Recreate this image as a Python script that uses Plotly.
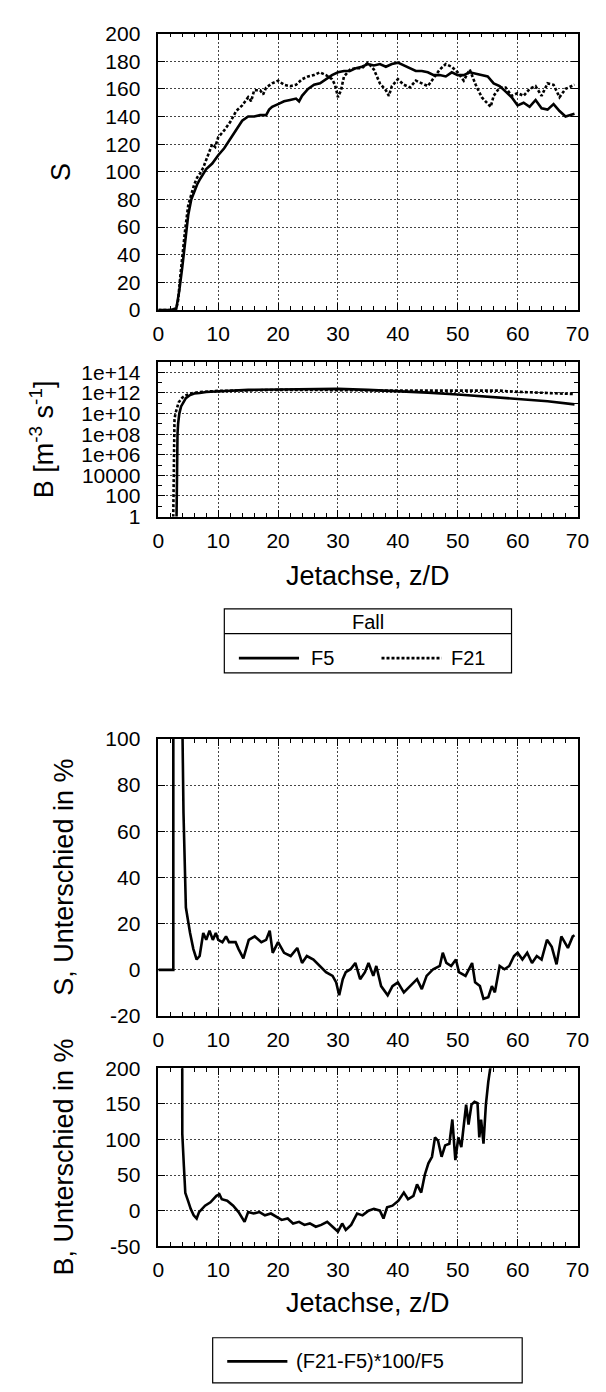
import plotly.graph_objects as go

# ---------------- data ----------------
# Centre-line scalar S along the jet axis (z/D), cases F5 and F21
z_s_f5 = [0, 1, 2, 3.0, 3.5, 4, 4.5, 5, 5.5, 6,
          6.5, 7, 7.5, 8, 9, 10, 11, 12, 13, 13.5,
          14, 15, 16, 17, 18, 18.5, 19, 20, 21, 22,
          23, 23.5, 24, 25, 26, 27, 28, 29, 30, 31,
          32, 33, 34, 35, 36, 37, 38, 39, 40, 41,
          42, 43, 44, 45, 46, 47, 48, 49, 50, 51,
          52, 53, 54, 55, 56, 57, 58, 59, 60, 61,
          62, 63, 64, 65, 66, 67, 68, 69, 69.5]
s_f5 = [0, 0, 0, 1, 14, 31, 50, 69, 80, 86,
        91, 95, 99, 102, 106, 112, 117, 124, 131, 134,
        137, 140, 140, 141, 141, 145, 147, 149, 151, 152,
        153, 151, 155, 160, 163, 164, 167, 170, 172, 173,
        173, 175, 176, 178, 177, 178, 176, 178, 179, 177,
        175, 173, 173, 172, 170, 170, 169, 172, 170, 170,
        172, 171, 170, 169, 164, 162, 158, 154, 148, 150,
        147, 152, 146, 145, 149, 144, 140, 141, 142]

z_s_f21 = [0, 1, 2, 3.0, 3.3, 3.7, 4, 4.5, 5, 5.5,
           6, 6.5, 7, 7.5, 8, 8.5, 9, 9.5, 10, 11,
           12, 13, 14, 15, 15.5, 16, 17, 17.5, 18, 19,
           20, 21, 22, 23, 24, 25, 26, 27, 28, 29,
           29.5, 30, 30.5, 31, 32, 33, 34, 35, 36, 37,
           38, 38.5, 39, 40, 41, 42, 43, 44, 45, 46,
           47, 48, 49, 50, 51, 52, 53, 54, 55, 55.5,
           56, 57, 58, 59, 60, 61, 62, 63, 64, 65,
           66, 67, 68, 69, 69.5]
s_f21 = [0, 0, 0, 1, 7, 26, 40, 59, 76, 84,
         91, 96, 99, 103, 109, 114, 120, 118, 125, 130,
         136, 144, 148, 154, 151, 159, 159, 156, 161, 164,
         166, 163, 162, 163, 167, 169, 170, 172, 170, 167,
         163, 154, 159, 169, 174, 175, 175, 179, 174, 164,
         159, 155, 162, 167, 163, 161, 166, 164, 162, 168,
         174, 178, 176, 172, 166, 174, 163, 154, 149, 147,
         155, 161, 161, 155, 157, 155, 160, 162, 155, 164,
         163, 154, 160, 162, 163]

# Source term B [m^-3 s^-1] along the jet axis
z_b_f5 = [3.0, 3.1, 3.2, 3.3, 3.5, 3.8, 4.2, 4.6, 5.3, 6.0,
          6.9, 8.0, 9.5, 12, 15, 20, 25, 30, 35, 40,
          45, 50, 55, 60, 65, 69.5]
b_f5 = [1e-2, 1e6, 1e8, 1e9, 1e10, 5e10, 1.26e11, 3.2e11, 6.3e11, 8.9e11,
        1.0e12, 1.26e12, 1.4e12, 1.6e12, 2.0e12, 2.2e12, 2.5e12, 2.5e12, 2.0e12, 1.5e12,
        1.1e12, 7.1e11, 4.5e11, 2.5e11, 1.6e11, 7.9e10]

z_b_f21 = [2.45, 2.55, 2.6, 2.7, 2.9, 3.4, 4.0, 4.5, 5.8, 7,
           10, 15, 20, 25, 30, 35, 40, 45, 50, 55,
           57, 60, 65, 69.5]
b_f21 = [1e-2, 1e5, 1e8, 3.2e9, 1.26e10, 1.26e11, 3.5e11, 5.6e11, 1.0e12, 1.26e12,
         1.6e12, 1.9e12, 2.0e12, 2.0e12, 1.8e12, 1.9e12, 1.7e12, 1.7e12, 1.7e12, 1.6e12,
         1.7e12, 1.3e12, 1.0e12, 7.9e11]

# Relative difference (F21-F5)*100/F5 for S, in %
z_ds = [0, 1, 2, 2.5, 2.55, 3.95, 4.2, 4.4, 4.6, 5.3,
        5.85, 6.4, 6.9, 7.5, 8.0, 8.55, 9.1, 9.6, 10, 10.7,
        11.3, 11.8, 12.9, 13.4, 14.2, 15.1, 16.1, 17.2, 18, 18.6,
        19.1, 20, 21, 22.1, 23.2, 24, 24.8, 25.9, 27, 28,
        29.1, 29.7, 30.2, 30.8, 31.3, 32.1, 32.9, 33.7, 34.5, 35.1,
        35.9, 36.4, 37.2, 38.3, 39.1, 40, 41, 42.1, 43.2, 44,
        44.8, 45.9, 47, 47.5, 48.1, 48.9, 49.7, 50.2, 51.3, 52.4,
        52.9, 53.7, 54.3, 55.1, 55.7, 56.2, 57, 57.8, 58.6, 59.4,
        60, 60.8, 61.6, 62.4, 63.2, 64, 64.9, 65.7, 66.5, 67.3,
        68.4, 69.2, 69.5]
ds = [0, 0, 0, 0, 1500, 120, 68, 40, 27, 16,
      9, 4.5, 6, 16, 13, 17, 13, 16, 13, 12,
      14.5, 12, 12, 9, 5, 13, 14.5, 12, 13, 17,
      7.4, 12, 7.4, 6, 9.5, 3, 6, 4.5, 1.7, -1,
      -2.6, -5.4, -11, -4, -1, 0.3, 3, -4, -1, 3,
      -2.6, 1.7, -7, -11, -7, -5.4, -9.7, -7, -4, -8.3,
      -2.6, 0.3, 1.7, 7.4, 3, 1.7, 4.5, -1, -2.6, 3,
      -5.4, -7, -12.5, -11.8, -7, -9.7, 1.7, 0.3, 1.7, 6,
      7.4, 4.5, 7.4, 3, 6, 4.5, 13, 10, 2.4, 14.5,
      9.5, 14.5, 15]

# Relative difference (F21-F5)*100/F5 for B, in %
z_db = [3.85, 3.95, 4.0, 4.27, 4.5, 4.95, 5.4, 5.9, 6.4, 6.8,
        7.8, 8.7, 9.7, 10.2, 10.6, 11.5, 12.5, 13.4, 14.4, 15,
        15.9, 16.9, 17.8, 18.8, 19.7, 20.6, 21.6, 22.5, 23.5, 24.4,
        25.3, 26.3, 27.2, 28.2, 29.1, 30, 30.7, 31.3, 32.2, 33.2,
        34.1, 35.1, 36, 37, 37.6, 38.2, 39.1, 40.1, 41, 41.7,
        42.6, 43.2, 43.9, 44.5, 45.1, 45.7, 46.2, 46.7, 47.3, 47.9,
        48.6, 49.1, 49.6, 50.1, 50.6, 51.4, 51.8, 52.3, 52.8, 53.3,
        53.6, 53.9, 54.3, 54.7, 55.1, 55.5, 56]
db = [2000, 210, 108, 62, 25, 14, 2.6, -6.6, -11, -2,
      7, 11.7, 20.8, 23, 16, 14, 7, -2, -15.7, -2,
      -4, -2, -6.6, -4, -9, -13, -11, -18, -15.7, -20,
      -18, -22.6, -20, -15.7, -22.6, -29.5, -18, -27, -20, -4,
      -6.6, 0, 2.6, 0, -11, 4.8, 7, 14, 25.4, 16,
      20.8, 37, 25.4, 50.5, 66.5, 75.7, 103, 98.5, 75.7, 91.7,
      94, 128, 71, 103, 89.4, 149, 121, 149, 153, 151,
      103, 128, 94, 149, 181, 204, 300]

# axis ticks
x_ticks = [0, 10, 20, 30, 40, 50, 60, 70]
s_ticks = [0, 20, 40, 60, 80, 100, 120, 140, 160, 180, 200]
b_ticks = [1, 1e2, 1e4, 1e6, 1e8, 1e10, 1e12, 1e14]
b_ticktext = ["1", "100", "10000", "1e+06", "1e+08", "1e+10", "1e+12", "1e+14"]
b_minor = [10, 1e3, 1e5, 1e7, 1e9, 1e11, 1e13]
ds_ticks = [-20, 0, 20, 40, 60, 80, 100]
db_ticks = [-50, 0, 50, 100, 150, 200]

# ---------------- layout helpers ----------------
W, H = 606, 1392
FONT = "Liberation Sans, Arial, Helvetica, sans-serif"
X0, X1 = 157, 589
TICK_SIZE = 21


def px_x(p):
    return p / W


def px_y(p):
    return 1 - p / H


def ydom(top, bottom):
    return [px_y(bottom), px_y(top)]


grid = dict(showgrid=True, gridcolor="#444", griddash="2px,2px", gridwidth=1)
frame = dict(showline=True, linecolor="black", linewidth=1.6, mirror="allticks",
             ticks="inside", ticklen=7, tickwidth=1.2, tickcolor="black",
             zeroline=False, tickfont=dict(family=FONT, size=TICK_SIZE, color="black"))


def xaxis_cfg(anchor):
    return dict(range=[0, 70], tickvals=x_ticks, ticktext=[str(v) for v in x_ticks],
                domain=[px_x(X0), px_x(X1)], anchor=anchor, ticklabelstandoff=4,
                minor=dict(dtick=2, tick0=0, ticks="inside", ticklen=4,
                           tickcolor="black", showgrid=False),
                **grid, **frame)


def yaxis_cfg(anchor, top, bottom, **kw):
    d = dict(domain=ydom(top, bottom), anchor=anchor, ticklabelstandoff=12)
    d.update(grid)
    d.update(frame)
    d.update(kw)
    return d


fig = go.Figure()

line_solid = dict(color="black", width=2.6)
line_dot = dict(color="black", width=2.6, dash="3px,2px")

fig.add_trace(go.Scatter(x=z_s_f5, y=s_f5, mode="lines", line=line_solid,
                         name="F5", xaxis="x", yaxis="y"))
fig.add_trace(go.Scatter(x=z_s_f21, y=s_f21, mode="lines", line=line_dot,
                         name="F21", xaxis="x", yaxis="y"))
fig.add_trace(go.Scatter(x=z_b_f5, y=b_f5, mode="lines", line=line_solid,
                         name="F5", xaxis="x2", yaxis="y2"))
fig.add_trace(go.Scatter(x=z_b_f21, y=b_f21, mode="lines", line=line_dot,
                         name="F21", xaxis="x2", yaxis="y2"))
fig.add_trace(go.Scatter(x=z_ds, y=ds, mode="lines", line=line_solid,
                         name="(F21-F5)*100/F5", xaxis="x3", yaxis="y3"))
fig.add_trace(go.Scatter(x=z_db, y=db, mode="lines", line=line_solid,
                         name="(F21-F5)*100/F5", xaxis="x4", yaxis="y4"))

fig.update_layout(
    width=W, height=H, margin=dict(l=0, r=0, t=0, b=0),
    paper_bgcolor="white", plot_bgcolor="white", showlegend=False,
    font=dict(family=FONT, size=TICK_SIZE, color="black"),
    xaxis=xaxis_cfg("y"),
    xaxis2=xaxis_cfg("y2"),
    xaxis3=xaxis_cfg("y3"),
    xaxis4=xaxis_cfg("y4"),
    yaxis=yaxis_cfg("x", 22, 303, range=[0, 200], tickvals=s_ticks,
                    ticktext=[str(v) for v in s_ticks]),
    yaxis2=yaxis_cfg("x2", 356, 513, type="log", range=[0, 15], tickvals=b_ticks,
                     ticktext=b_ticktext,
                     minor=dict(tickmode="array", tickvals=b_minor, ticks="inside",
                                ticklen=4, tickcolor="black", showgrid=False)),
    yaxis3=yaxis_cfg("x3", 739, 1021, range=[-20, 100], tickvals=ds_ticks,
                     ticktext=[str(v) for v in ds_ticks]),
    yaxis4=yaxis_cfg("x4", 1074, 1255, range=[-50, 200], tickvals=db_ticks,
                     ticktext=[str(v) for v in db_ticks]),
)

# ---------------- axis titles ----------------
TITLE = dict(family=FONT, size=27, color="black")


def label(text, xp, yp, angle=0, size=None, anchor="center"):
    f = dict(TITLE)
    if size:
        f["size"] = size
    fig.add_annotation(text=text, x=px_x(xp), y=px_y(yp), xref="paper", yref="paper",
                       showarrow=False, textangle=angle, font=f,
                       xanchor=anchor, yanchor="middle")


xc = (X0 + X1) / 2
label("S", 57, (22 + 303) / 2, angle=-90)
label("B [m<sup>-3</sup> s<sup>-1</sup>]", 37, (356 + 513) / 2, angle=-90)
label("Jetachse, z/D", xc, 573)
label("S, Unterschied in %", 60, (739 + 1021) / 2, angle=-90)
label("B, Unterschied in %", 60, (1074 + 1255) / 2, angle=-90)
label("Jetachse, z/D", xc, 1313)

# ---------------- legend boxes ----------------
def rect(x0, y0, x1, y1):
    fig.add_shape(type="rect", xref="paper", yref="paper",
                  x0=px_x(x0), x1=px_x(x1), y0=px_y(y1), y1=px_y(y0),
                  line=dict(color="black", width=1.2), fillcolor="rgba(0,0,0,0)")


def hline(x0, x1, y, style):
    fig.add_shape(type="line", xref="paper", yref="paper",
                  x0=px_x(x0), x1=px_x(x1), y0=px_y(y), y1=px_y(y), line=style)


LEG = 20
rect(225, 607, 521, 672)
hline(225, 521, 632, dict(color="black", width=1.2))
label("Fall", 373, 620, size=LEG)
hline(240, 302, 657, line_solid)
label("F5", 312, 657, size=LEG, anchor="left")
hline(387, 449, 657, line_dot)
label("F21", 457, 657, size=LEG, anchor="left")

rect(213, 1348, 532, 1394)
hline(228, 290, 1372, line_solid)
label("(F21-F5)*100/F5", 297, 1372, size=LEG, anchor="left")

fig.write_html("out.html")
